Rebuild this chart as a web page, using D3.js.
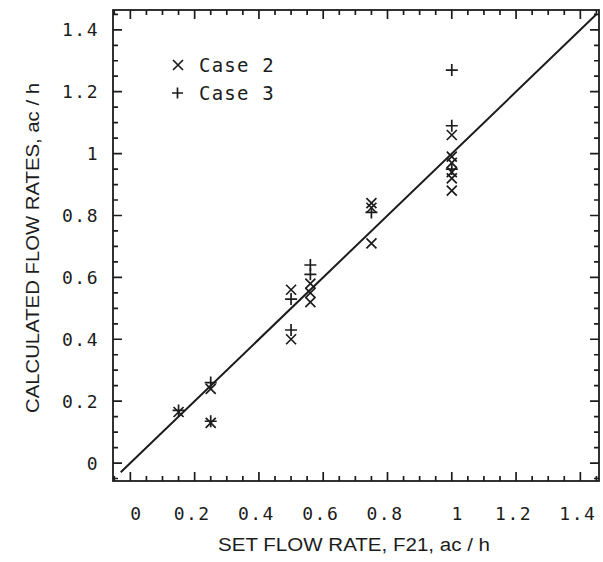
<!DOCTYPE html>
<html><head><meta charset="utf-8">
<script src="https://cdn.jsdelivr.net/npm/d3@7/dist/d3.min.js"></script>
<style>body{margin:0;background:#fff}svg{display:block}</style>
</head><body>
<svg id="c" width="603" height="562"></svg>
<script>
// Data
const case2X = [0.15, 0.25, 0.25, 0.5, 0.5, 0.56, 0.56, 0.56, 0.75, 0.75, 0.75, 1.0, 1.0, 1.0, 1.0, 1.0, 1.0];
const case2Y = [0.165, 0.13, 0.24, 0.56, 0.40, 0.58, 0.55, 0.52, 0.84, 0.825, 0.71, 1.06, 0.99, 0.97, 0.94, 0.92, 0.88];
const case3X = [0.15, 0.25, 0.25, 0.5, 0.5, 0.56, 0.56, 0.75, 1.0, 1.0, 1.0];
const case3Y = [0.17, 0.135, 0.26, 0.53, 0.43, 0.64, 0.61, 0.81, 1.27, 1.09, 0.95];
const xTickLabels = ["0", "0.2", "0.4", "0.6", "0.8", "1", "1.2", "1.4"];
const yTickLabels = ["0", "0.2", "0.4", "0.6", "0.8", "1", "1.2", "1.4"];
const legendLabels = ["Case 2", "Case 3"];
const lineRange = [-0.03, 1.45];

const ink = "#1c1c1c";
const svg = d3.select("#c");
const x = d3.scaleLinear().domain([-0.054, 1.458]).range([113, 599]);
const y = d3.scaleLinear().domain([-0.058, 1.464]).range([481, 10]);
const X0 = 113, X1 = 599, Y0 = 481, Y1 = 10;

const monoFont = "'DejaVu Sans Mono', monospace";
xTickLabels.forEach(t => {
  const v = +t;
  svg.append("text").attr("x", x(v) + (t.length === 1 ? 6 : -2.5)).attr("y", 513)
    .attr("text-anchor", "middle").attr("dominant-baseline", "central")
    .attr("font-family", monoFont).attr("font-size", 18).attr("letter-spacing", 1.5)
    .attr("fill", ink).text(t);
});
yTickLabels.forEach(t => {
  const v = +t;
  svg.append("text").attr("x", 99).attr("y", y(v))
    .attr("text-anchor", "end").attr("dominant-baseline", "central")
    .attr("font-family", monoFont).attr("font-size", 18).attr("letter-spacing", 1.5)
    .attr("fill", ink).text(t);
});

// axis titles
svg.append("text").attr("x", 354).attr("y", 545).attr("text-anchor", "middle")
  .attr("dominant-baseline", "central").attr("font-family", "'Liberation Sans', Arial, sans-serif")
  .attr("font-size", 18).attr("fill", ink).attr("textLength", 272).attr("lengthAdjust", "spacingAndGlyphs")
  .text("SET FLOW RATE,  F21,  ac / h");
svg.append("text").attr("transform", "translate(33,248) rotate(-90)").attr("text-anchor", "middle")
  .attr("dominant-baseline", "central").attr("font-family", "'Liberation Sans', Arial, sans-serif")
  .attr("font-size", 18).attr("fill", ink).attr("textLength", 330).attr("lengthAdjust", "spacingAndGlyphs")
  .text("CALCULATED FLOW RATES,  ac / h");

// 1:1 line
svg.append("line").attr("x1", x(lineRange[0])).attr("y1", y(lineRange[0]))
  .attr("x2", x(lineRange[1])).attr("y2", y(lineRange[1]))
  .attr("stroke", ink).attr("stroke-width", 2);

// markers
const cross = (px, py, s) => `M${px - s},${py - s}L${px + s},${py + s}M${px - s},${py + s}L${px + s},${py - s}`;
const plus = (px, py, s) => `M${px - s},${py}L${px + s},${py}M${px},${py - s}L${px},${py + s}`;
const mk = svg.append("g").attr("stroke", ink).attr("stroke-width", 1.7).attr("fill", "none");
case2X.forEach((v, i) => mk.append("path").attr("d", cross(x(v), y(case2Y[i]), 5)));
case3X.forEach((v, i) => mk.append("path").attr("d", plus(x(v), y(case3Y[i]), 6)));

// legend
mk.append("path").attr("d", cross(178, 65, 5));
mk.append("path").attr("d", plus(177.5, 93, 5.5));
legendLabels.forEach((t, i) => {
  svg.append("text").attr("x", 199).attr("y", 65 + i * 28).attr("dominant-baseline", "central")
    .attr("font-family", monoFont).attr("font-size", 19).attr("letter-spacing", 1.2)
    .attr("fill", ink).text(t);
});

// frame (drawn last, on top)
svg.append("rect").attr("x", X0).attr("y", Y1).attr("width", X1 - X0).attr("height", Y0 - Y1)
  .attr("fill", "none").attr("stroke", ink).attr("stroke-width", 1.8);

// ticks every 0.05, longer every 0.2, on all four sides pointing inward
const tickVals = d3.range(-1, 30).map(i => i * 0.05);
const tickLen = v => (Math.abs(v / 0.2 - Math.round(v / 0.2)) < 1e-6 ? 9 : 5);
let tickPath = "";
tickVals.forEach(v => {
  const L = tickLen(v);
  const px = x(v), py = y(v);
  if (px > X0 + 1 && px < X1 - 1) {
    tickPath += `M${px},${Y0}V${Y0 - L}M${px},${Y1}V${Y1 + L}`;
  }
  if (py < Y0 - 1 && py > Y1 + 1) {
    tickPath += `M${X0},${py}H${X0 + L}M${X1},${py}H${X1 - L}`;
  }
});
svg.append("path").attr("d", tickPath).attr("fill", "none")
  .attr("stroke", ink).attr("stroke-width", 1.7);
</script>
</body></html>
